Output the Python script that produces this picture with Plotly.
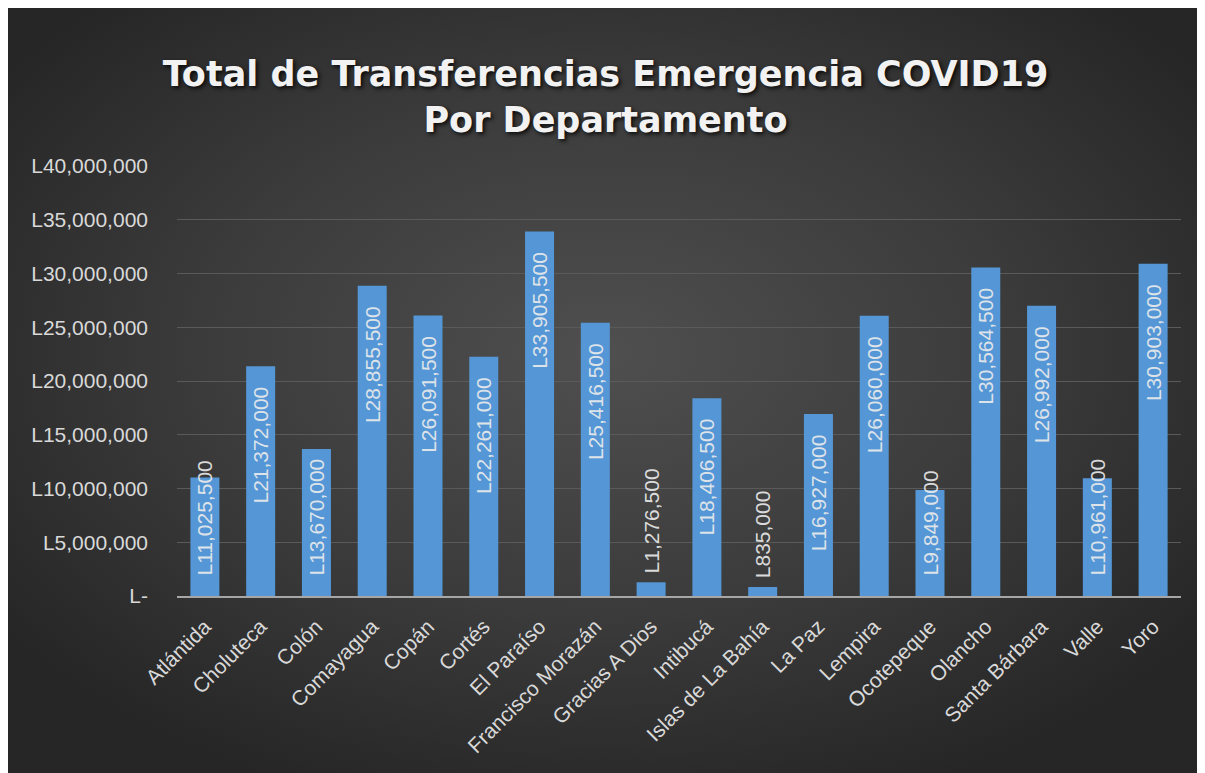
import base64
import plotly.graph_objects as go

departamentos = ["Atlántida", "Choluteca", "Colón", "Comayagua", "Copán", "Cortés",
                 "El Paraíso", "Francisco Morazán", "Gracias A Dios", "Intibucá",
                 "Islas de La Bahía", "La Paz", "Lempira", "Ocotepeque", "Olancho",
                 "Santa Bárbara", "Valle", "Yoro"]
montos = [11025500, 21372000, 13670000, 28855500, 26091500, 22261000,
          33905500, 25416500, 1276500, 18406500,
          835000, 16927000, 26060000, 9849000, 30564500,
          26992000, 10961000, 30903000]
y_tickvals = [0, 5000000, 10000000, 15000000, 20000000, 25000000, 30000000, 35000000, 40000000]
y_ticktext = ["L-", "L5,000,000", "L10,000,000", "L15,000,000", "L20,000,000",
              "L25,000,000", "L30,000,000", "L35,000,000", "L40,000,000"]
titulo = "Total de Transferencias Emergencia COVID19<br>Por Departamento"

W, H = 1195, 765
L, R, T, B = 169, 22, 158, 177
pw, ph = W - L - R, H - T - B

# background radial gradient covering the whole paper
svg = '''<svg xmlns="http://www.w3.org/2000/svg" width="1195" height="765" viewBox="0 0 1195 765" preserveAspectRatio="none">
<defs><radialGradient id="g" cx="50%" cy="45%" r="62%">
<stop offset="0%" stop-color="#4f4f4f"/><stop offset="55%" stop-color="#3b3b3b"/><stop offset="100%" stop-color="#262626"/>
</radialGradient></defs><rect width="1195" height="765" fill="url(#g)"/></svg>'''
src = "data:image/svg+xml;base64," + base64.b64encode(svg.encode()).decode()

img = dict(source=src, xref="paper", yref="paper",
           x=-L / pw, y=(H - B) / ph, sizex=W / pw, sizey=H / ph,
           xanchor="left", yanchor="top", sizing="stretch", layer="below")

# label placement: tall bars get the label near the top, short bars near the base
ALTO = 15000000
altos = [v if v >= ALTO else None for v in montos]
bajos = [v if v < ALTO else None for v in montos]
pos_bajos = ["outside" if v < 5000000 else "inside" for v in montos]
tpl_bajos = [("\u00a0" if v < 5000000 else "\u00a0\u00a0\u00a0") + "L%{y:,.0f}" for v in montos]

BAR_COLOR = "#5597d6"
LABEL_FONT = dict(family="Liberation Sans", size=21, color="rgba(235,235,235,0.92)")

fig = go.Figure()
fig.add_trace(go.Bar(
    x=departamentos, y=altos,
    marker=dict(color=BAR_COLOR, line=dict(width=0)),
    texttemplate="L%{y:,.0f}\u00a0\u00a0\u00a0", textposition="inside",
    insidetextanchor="end", textangle=-90, constraintext="none",
    textfont=LABEL_FONT, cliponaxis=False, hoverinfo="skip",
))
fig.add_trace(go.Bar(
    x=departamentos, y=bajos,
    marker=dict(color=BAR_COLOR, line=dict(width=0)),
    texttemplate=tpl_bajos, textposition=pos_bajos,
    insidetextanchor="start", textangle=-90, constraintext="none",
    textfont=LABEL_FONT, cliponaxis=False, hoverinfo="skip",
))

fig.update_layout(
    width=W, height=H,
    margin=dict(l=L, r=R, t=T, b=B, pad=0),
    paper_bgcolor="#2a2a2a", plot_bgcolor="rgba(0,0,0,0)",
    images=[img],
    barmode="overlay",
    bargap=0.48,
    showlegend=False,
    uniformtext=dict(minsize=21, mode="show"),
    title=dict(text=titulo, x=0.5, xanchor="center", xref="container",
               y=1 - 78 / H, yanchor="middle", yref="container",
               font=dict(family="DejaVu Sans", size=35, color="#f2f2f2", weight="bold",
                         shadow="2px 2px 4px rgba(0,0,0,0.85)")),
    font=dict(family="Liberation Sans", color="#d9d9d9"),
)
fig.update_yaxes(range=[0, 40000000], tickvals=y_tickvals, ticktext=y_ticktext,
                 showgrid=True, gridcolor="#5a5a5a", gridwidth=1, zeroline=False,
                 showline=False, ticks="", ticklabelstandoff=28,
                 tickfont=dict(family="Liberation Sans", size=21, color="#d9d9d9"))
fig.update_xaxes(showline=True, linecolor="#a6a6a6", linewidth=2, ticks="",
                 tickangle=-45, ticklabelstandoff=8,
                 tickfont=dict(family="Liberation Sans", size=21, color="#d9d9d9"))

fig.write_html("out.html")
